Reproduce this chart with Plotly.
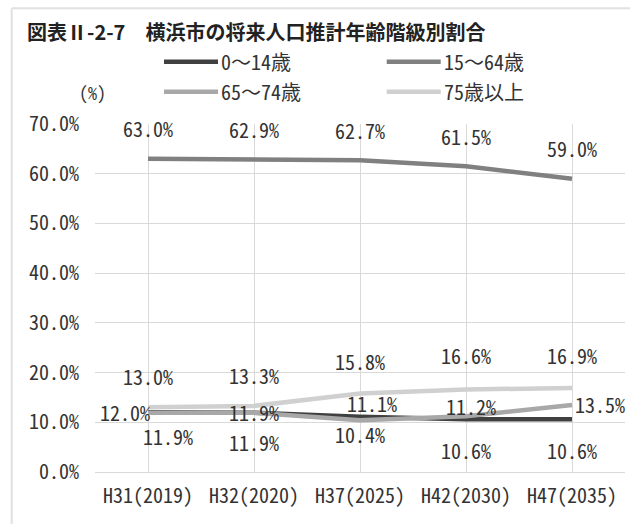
import plotly.graph_objects as go

# --- data -----------------------------------------------------------------
categories = ["H31(2019)", "H32(2020)", "H37(2025)", "H42(2030)", "H47(2035)"]
series_names = ["0～14歳", "15～64歳", "65～74歳", "75歳以上"]
age_0_14 = [12.0, 11.9, 11.1, 10.6, 10.6]
age_15_64 = [63.0, 62.9, 62.7, 61.5, 59.0]
age_65_74 = [11.9, 11.9, 10.4, 11.2, 13.5]
age_75_up = [13.0, 13.3, 15.8, 16.6, 16.9]
y_ticks = [0, 10, 20, 30, 40, 50, 60, 70]

series_values = [age_0_14, age_15_64, age_65_74, age_75_up]

# --- styling --------------------------------------------------------------
W, H = 630, 524
M_L, M_R, M_T, M_B = 95, 5, 124, 52
PW, PH = W - M_L - M_R, H - M_T - M_B

FONT = "Noto Sans Mono CJK JP, Noto Sans CJK JP, sans-serif"
TEXT = "#333333"
GRID = "#d9d9d9"
colors = ["#404040", "#808080", "#a8a8a8", "#d0d0d0"]
LINE_W = 4.5

# label offsets (xshift, yshift) in px for each series / category
label_offsets = [
    [(-23, 0), (0, 0), (12, 13), (0, -31), (0, -31)],      # 0～14歳
    [(0, 30), (0, 30), (0, 30), (0, 30), (0, 30)],          # 15～64歳
    [(20, -24), (0, -30), (0, -14), (5, 10), (28, 0)],     # 65～74歳
    [(0, 31), (0, 30), (0, 32), (0, 34), (0, 32)],          # 75歳以上
]


def px_x(px):
    return (px - M_L) / PW


def px_y(py):
    return (H - M_B - py) / PH


fig = go.Figure()
for name, vals, col in zip(series_names, series_values, colors):
    fig.add_trace(go.Scatter(
        x=categories, y=vals, name=name, mode="lines",
        line=dict(color=col, width=LINE_W),
        showlegend=False, hoverinfo="skip",
    ))

annotations = []
for vals, offs in zip(series_values, label_offsets):
    for cat, v, (dx, dy) in zip(categories, vals, offs):
        annotations.append(dict(
            x=cat, y=v, xref="x", yref="y", text=f"{v:.1f}%",
            showarrow=False, xanchor="center", yanchor="middle",
            xshift=dx, yshift=dy,
            font=dict(family=FONT, size=20, color=TEXT),
        ))

# legend: line swatch followed by the series name, two per row
shapes = []
for i, (name, col) in enumerate(zip(series_names, colors)):
    c, r = i % 2, i // 2
    x0 = 164 + c * 222.7
    x1 = x0 + 54
    yy = 61.7 + r * 30
    shapes.append(dict(
        type="line", xref="paper", yref="paper",
        x0=px_x(x0), x1=px_x(x1), y0=px_y(yy), y1=px_y(yy),
        line=dict(color=col, width=LINE_W),
    ))
    annotations.append(dict(
        x=px_x(x1 + 1), y=px_y(yy), xref="paper", yref="paper",
        text=name, showarrow=False, xanchor="left", yanchor="middle",
        font=dict(family=FONT, size=20, color=TEXT),
    ))

annotations.append(dict(
    x=px_x(92.5), y=px_y(91.7), xref="paper", yref="paper",
    text="(%)", showarrow=False, xanchor="center", yanchor="middle",
    font=dict(family=FONT, size=18, color=TEXT),
))

# outer frame (left and top edges)
shapes.append(dict(type="line", xref="paper", yref="paper",
                   x0=px_x(11.7), x1=px_x(11.7), y0=px_y(8.3), y1=px_y(530),
                   line=dict(color="#e0e0e0", width=2)))
shapes.append(dict(type="line", xref="paper", yref="paper",
                   x0=px_x(11.7), x1=px_x(640), y0=px_y(8.3), y1=px_y(8.3),
                   line=dict(color="#e0e0e0", width=2)))

fig.update_layout(
    width=W, height=H, autosize=False,
    margin=dict(l=M_L, r=M_R, t=M_T, b=M_B, pad=0),
    paper_bgcolor="white", plot_bgcolor="white",
    title=dict(
        text="<b>図表Ⅱ-2-7　横浜市の将来人口推計年齢階級別割合</b>",
        x=27 / W, xref="container", xanchor="left",
        y=1 - 33.3 / H, yref="container", yanchor="middle",
        font=dict(family="Noto Sans CJK JP, sans-serif", size=20, color="#222222"),
    ),
    xaxis=dict(
        type="category", range=[-0.5, len(categories) - 0.5],
        showgrid=True, gridcolor=GRID, gridwidth=1,
        showline=True, linecolor=GRID, linewidth=1,
        ticks="", ticklabelstandoff=6,
        tickfont=dict(family=FONT, size=20, color=TEXT),
    ),
    yaxis=dict(
        range=[0, 70], tickvals=y_ticks,
        ticktext=[f"{t:.1f}%" for t in y_ticks],
        showgrid=True, gridcolor=GRID, gridwidth=1,
        zeroline=False, showline=False,
        ticks="", ticklabelstandoff=15,
        tickfont=dict(family=FONT, size=20, color=TEXT),
    ),
    shapes=shapes,
    annotations=annotations,
)

fig.write_html("out.html")
